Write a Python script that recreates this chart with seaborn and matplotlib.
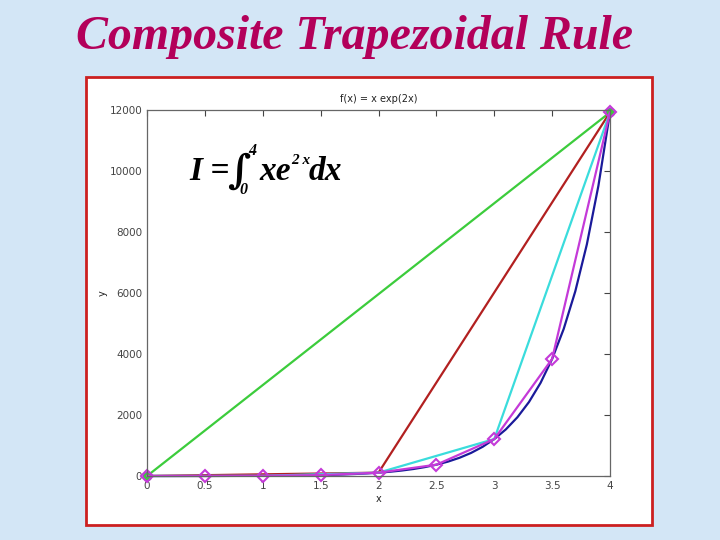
import numpy as np
import pandas as pd
import matplotlib
matplotlib.use("Agg")
import matplotlib.pyplot as plt
from matplotlib.patches import Rectangle
import seaborn as sns

# f(x) = x exp(2x)
x_curve = [0.0, 0.1, 0.2, 0.3, 0.4, 0.5, 0.6, 0.7, 0.8, 0.9, 1.0,
           1.1, 1.2, 1.3, 1.4, 1.5, 1.6, 1.7, 1.8, 1.9, 2.0,
           2.1, 2.2, 2.3, 2.4, 2.5, 2.6, 2.7, 2.8, 2.9, 3.0,
           3.1, 3.2, 3.3, 3.4, 3.5, 3.6, 3.7, 3.8, 3.9, 4.0]
y_curve = [0.0, 0.12, 0.30, 0.55, 0.89, 1.36, 1.99, 2.84, 3.96, 5.45, 7.39,
           9.93, 13.2, 17.5, 23.0, 30.1, 39.3, 50.9, 65.9, 84.9, 109.2,
           140.0, 179.2, 228.8, 291.6, 371.0, 471.3, 597.8, 757.2, 957.9, 1210.3,
           1527.5, 1925.9, 2425.8, 3052.7, 3838.2, 4821.9, 6053.1, 7593.2, 9518.3, 11923.8]

# trapezoid nodes for n = 1, 2, 4, 8
x_n1 = [0, 4]
y_n1 = [0.0, 11923.8]
x_n2 = [0, 2, 4]
y_n2 = [0.0, 109.2, 11923.8]
x_n4 = [0, 1, 2, 3, 4]
y_n4 = [0.0, 7.39, 109.2, 1210.3, 11923.8]
x_n8 = [0, 0.5, 1, 1.5, 2, 2.5, 3, 3.5, 4]
y_n8 = [0.0, 1.36, 7.39, 30.1, 109.2, 371.0, 1210.3, 3838.2, 11923.8]

x_ticks = [0, 0.5, 1, 1.5, 2, 2.5, 3, 3.5, 4]
x_ticklabels = ["0", "0.5", "1", "1.5", "2", "2.5", "3", "3.5", "4"]
y_ticks = [0, 2000, 4000, 6000, 8000, 10000, 12000]

sns.set_style("white")

W, H = 720, 540
fig = plt.figure(figsize=(7.2, 5.4), dpi=100)
fig.patch.set_facecolor("#d3e6f6")

# slide title
fig.text(0.493, 0.932, "Composite Trapezoidal Rule", ha="center", va="center",
         fontsize=34.5, color="#b3005a", family="Liberation Serif",
         style="italic", weight="bold")

# white framed panel behind the axes
fig.patches.append(Rectangle((86 / W, 1 - 525 / H), 566 / W, 448 / H,
                             transform=fig.transFigure, facecolor="white",
                             edgecolor="#cc2020", linewidth=2, zorder=-5))

ax = fig.add_axes([147 / W, 1 - 476 / H, 463 / W, 366 / H])
ax.set_facecolor("white")

sns.lineplot(x=x_curve, y=y_curve, ax=ax, color="#1a1a9a", linewidth=1.6)
sns.lineplot(x=x_n1, y=y_n1, ax=ax, color="#3ccc3c", linewidth=1.6,
             marker="o", markersize=6, markeredgecolor="#8060a0")
sns.lineplot(x=x_n2, y=y_n2, ax=ax, color="#b22020", linewidth=1.6)
sns.lineplot(x=x_n4, y=y_n4, ax=ax, color="#3adcdc", linewidth=1.6)
sns.lineplot(x=x_n8, y=y_n8, ax=ax, color="#c43ad8", linewidth=1.6,
             marker="D", markersize=6, markerfacecolor="none",
             markeredgecolor="#c43ad8", markeredgewidth=1.5)
for ln in ax.lines:
    ln.set_clip_on(False)

ax.set_xlim(0, 4)
ax.set_ylim(0, 12000)
ax.set_xticks(x_ticks)
ax.set_xticklabels(x_ticklabels)
ax.set_yticks(y_ticks)
ax.tick_params(direction="in", length=4, labelsize=7.5, colors="#444444",
               top=True, right=True, labeltop=False, labelright=False)
for s in ax.spines.values():
    s.set_color("#666666")
    s.set_linewidth(0.9)

ax.set_title("f(x) = x exp(2x)", fontsize=7, color="#222222", pad=6)
ax.set_xlabel("x", fontsize=7, color="#222222", labelpad=2)
ax.set_ylabel("y", fontsize=7, color="#222222", labelpad=1)

# the integral, placed in pieces so the sign can be tall
serif = dict(family="Liberation Serif", style="italic", weight="bold", color="black")
fig.text(189 / W, 1 - 180 / H, "I =", fontsize=24, va="baseline", **serif)
fig.text(239 / W, 1 - 172 / H, "\u222b", fontsize=29, ha="center", va="center",
         family="DejaVu Serif", weight="bold", color="black")
fig.text(252 / W, 1 - 151 / H, "4", fontsize=11.5, ha="center", va="center", **serif)
fig.text(243 / W, 1 - 190 / H, "0", fontsize=11.5, ha="center", va="center", **serif)
fig.text(259 / W, 1 - 180 / H, "xe", fontsize=24, va="baseline", **serif)
fig.text(291 / W, 1 - 160 / H, "2 x", fontsize=11, va="center", **serif)
fig.text(309 / W, 1 - 180 / H, "dx", fontsize=24, va="baseline", **serif)

fig.savefig("out.png", dpi=100, facecolor=fig.get_facecolor())
